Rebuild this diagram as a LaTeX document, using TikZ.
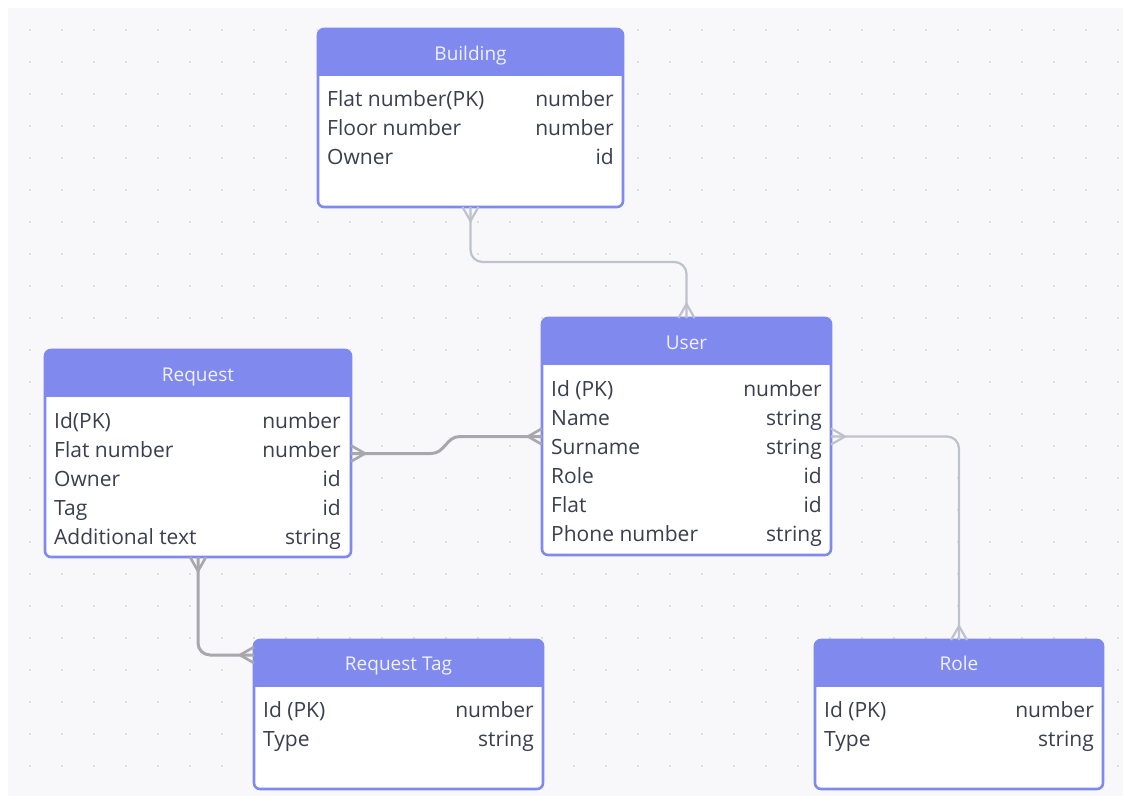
\documentclass[tikz,border=0pt]{standalone}
\usepackage{fontspec}
\setmainfont{Open Sans}
\usetikzlibrary{calc}

\definecolor{canvasbg}{RGB}{248,248,251}
\definecolor{griddot}{RGB}{220,220,226}
\definecolor{hdrblue}{RGB}{128,137,237}
\definecolor{hdrtext}{RGB}{240,242,255}
\definecolor{celltext}{RGB}{58,62,78}
\definecolor{linksoft}{RGB}{190,194,204}
\definecolor{linkgrey}{RGB}{168,168,172}

\tikzset{
  erbox/.style={rectangle, fill=white, inner sep=0pt, outer sep=0pt},
  frameline/.style={draw=hdrblue, line width=2.6pt, rounded corners=6pt},
  hdrfill/.style={fill=hdrblue},
  titletext/.style={anchor=base, text=hdrtext, inner sep=0pt, font=\fontsize{19}{23}\selectfont},
  lcell/.style={anchor=base west, text=celltext, inner sep=0pt, font=\fontsize{21}{25}\selectfont},
  rcell/.style={anchor=base east, text=celltext, inner sep=0pt, font=\fontsize{21}{25}\selectfont},
  linksoftstyle/.style={draw=linksoft, line width=2.2pt, rounded corners=12pt},
  linkgreystyle/.style={draw=linkgrey, line width=3pt, rounded corners=12pt},
  crow/.pic={\draw (0,-8) -- (14,0) -- (0,8);},
}

% header band and outline of an entity box
\newcommand\erframe[1]{%
  \begin{scope}
    \clip[rounded corners=6pt] (#1.north west) rectangle (#1.south east);
    \fill[hdrfill] (#1.north west) rectangle ($(#1.north east)+(0,47)$);
  \end{scope}
  \draw[frameline] (#1.north west) rectangle (#1.south east);}

\begin{document}
\begin{tikzpicture}[x=1pt, y=-1pt]
\useasboundingbox (0,0) rectangle (1123,796);

% canvas with dotted grid
\fill[canvasbg] (8,8) rectangle (1123,796);
\foreach \i in {0,...,34}{
  \foreach \j in {0,...,23}{
    \fill[griddot] ({30+32*\i-1.4},{30+32*\j-1.4}) rectangle ++(2.8,2.8);
  }
}

% entity boxes
\node[erbox, minimum width=305, minimum height=178] (building) at (470.5,118) {};
\node[erbox, minimum width=289, minimum height=237] (user) at (686.5,436.5) {};
\node[erbox, minimum width=306, minimum height=207] (request) at (198,453.5) {};
\node[erbox, minimum width=289, minimum height=149] (reqtag) at (398.5,714.5) {};
\node[erbox, minimum width=288, minimum height=149] (role) at (959,714.5) {};

\erframe{building}
\erframe{user}
\erframe{request}
\erframe{reqtag}
\erframe{role}

% Building
\node[titletext] (building-title) at (470.5,60) {Building};
\node[lcell] (b1) at (327,106) {Flat number(PK)};
\node[rcell] (b1t) at (614,106) {number};
\node[lcell] (b2) at (327,135) {Floor number};
\node[rcell] (b2t) at (614,135) {number};
\node[lcell] (b3) at (327,164) {Owner};
\node[rcell] (b3t) at (614,164) {id};

% User
\node[titletext] (user-title) at (686.5,349) {User};
\node[lcell] (u1) at (551,396) {Id (PK)};
\node[rcell] (u1t) at (822,396) {number};
\node[lcell] (u2) at (551,425) {Name};
\node[rcell] (u2t) at (822,425) {string};
\node[lcell] (u3) at (551,454) {Surname};
\node[rcell] (u3t) at (822,454) {string};
\node[lcell] (u4) at (551,483) {Role};
\node[rcell] (u4t) at (822,483) {id};
\node[lcell] (u5) at (551,512) {Flat};
\node[rcell] (u5t) at (822,512) {id};
\node[lcell] (u6) at (551,541) {Phone number};
\node[rcell] (u6t) at (822,541) {string};

% Request
\node[titletext] (request-title) at (198,381) {Request};
\node[lcell] (r1) at (54,428) {Id(PK)};
\node[rcell] (r1t) at (341,428) {number};
\node[lcell] (r2) at (54,457) {Flat number};
\node[rcell] (r2t) at (341,457) {number};
\node[lcell] (r3) at (54,486) {Owner};
\node[rcell] (r3t) at (341,486) {id};
\node[lcell] (r4) at (54,515) {Tag};
\node[rcell] (r4t) at (341,515) {id};
\node[lcell] (r5) at (54,544) {Additional text};
\node[rcell] (r5t) at (341,544) {string};

% Request Tag
\node[titletext] (reqtag-title) at (398.5,670) {Request Tag};
\node[lcell] (t1) at (263,717) {Id (PK)};
\node[rcell] (t1t) at (534,717) {number};
\node[lcell] (t2) at (263,746) {Type};
\node[rcell] (t2t) at (534,746) {string};

% Role
\node[titletext] (role-title) at (959,670) {Role};
\node[lcell] (o1) at (824,717) {Id (PK)};
\node[rcell] (o1t) at (1094,717) {number};
\node[lcell] (o2) at (824,746) {Type};
\node[rcell] (o2t) at (1094,746) {string};

% relationships
\coordinate (tagin) at ($(reqtag.north west)+(0,15)$);

\draw[linksoftstyle] (building.south) -- ++(0,55) -| (user.north);
\pic[draw=linksoft, line width=2.2pt, rotate=-90] at (building.south) {crow};
\pic[draw=linksoft, line width=2.2pt, rotate=90] at (user.north) {crow};

\draw[linkgreystyle, rounded corners=0pt] (request.east) -- ++(80,0)
  .. controls ++(14,0) and ++(-14,0) .. ($(user.west)+(-82,0)$) -- (user.west);
\pic[draw=linkgrey, line width=2.6pt, rotate=0] at (request.east) {crow};
\pic[draw=linkgrey, line width=2.6pt, rotate=180] at (user.west) {crow};

\draw[linkgreystyle] (request.south) |- (tagin);
\pic[draw=linkgrey, line width=2.6pt, rotate=-90] at (request.south) {crow};
\pic[draw=linkgrey, line width=2.6pt, rotate=180] at (tagin) {crow};

\draw[linksoftstyle] (user.east) -| (role.north);
\pic[draw=linksoft, line width=2.2pt, rotate=0] at (user.east) {crow};
\pic[draw=linksoft, line width=2.2pt, rotate=90] at (role.north) {crow};
\end{tikzpicture}
\end{document}
